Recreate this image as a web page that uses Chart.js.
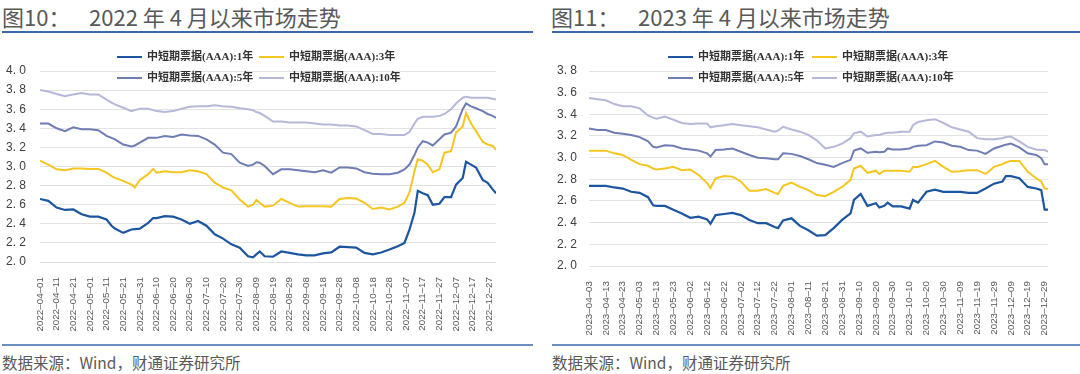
<!DOCTYPE html>
<html>
<head>
<meta charset="utf-8">
<script src="https://cdn.jsdelivr.net/npm/chart.js@4.4.1/dist/chart.umd.min.js"></script>
<style>
  body { margin: 0; background: #fff; width: 1080px; height: 374px; overflow: hidden; position: relative; font-family: "Noto Sans CJK SC", sans-serif; }
  .title { position: absolute; top: 2px; font-size: 22px; color: #595959; white-space: nowrap; line-height: 28px; }
  .title .num { position: absolute; left: 87px; }
  .rule { position: absolute; height: 2px; }
  .src { position: absolute; top: 351px; font-size: 15.5px; color: #595959; white-space: nowrap; }
  .box { position: absolute; top: 36px; height: 306px; }
</style>
</head>
<body>
<div class="title" style="left:2px">图10：<span class="num">2022 年 4 月以来市场走势</span></div>
<div class="title" style="left:551px">图11：<span class="num">2023 年 4 月以来市场走势</span></div>
<div class="rule" style="left:2px;width:531px;top:31px;background:#3a68a8"></div>
<div class="rule" style="left:552px;width:528px;top:31px;background:#3a68a8"></div>
<div class="rule" style="left:2px;width:531px;top:344px;background:#6b8fc2"></div>
<div class="rule" style="left:552px;width:528px;top:344px;background:#6b8fc2"></div>
<div class="src" style="left:2px">数据来源：Wind，财通证券研究所</div>
<div class="src" style="left:552px">数据来源：Wind，财通证券研究所</div>
<div class="box" style="left:0;width:540px"><canvas id="c2022" width="540" height="306"></canvas></div>
<div class="box" style="left:545px;width:535px"><canvas id="c2023" width="535" height="306"></canvas></div>
<script>
// series names
const seriesNames = ["中短期票据(AAA):1年", "中短期票据(AAA):3年", "中短期票据(AAA):5年", "中短期票据(AAA):10年"];
const seriesColors = ["#1d56a0", "#f6c620", "#6f7db5", "#b5b8d8"];

// 2022: day offsets from 2022-04-01
const days2022 = [0,5,10,15,20,25,30,35,40,43,45,50,55,57,60,65,68,70,75,80,85,90,95,100,105,110,115,120,125,128,130,132,
  135,140,145,150,155,160,165,170,175,180,185,190,195,200,205,210,215,219,222,225,227,230,233,236,240,243,247,250,254,256,259,262,266,269,272,274];
const y1_2022 = [2.66,2.64,2.57,2.545,2.55,2.50,2.475,2.475,2.445,2.38,2.35,2.305,2.34,2.345,2.35,2.41,2.46,2.46,2.48,2.475,2.445,2.40,2.43,2.38,2.29,2.245,2.185,2.15,2.06,2.05,2.08,2.11,
  2.06,2.055,2.11,2.095,2.08,2.07,2.07,2.09,2.10,2.16,2.155,2.15,2.095,2.08,2.10,2.13,2.165,2.20,2.34,2.515,2.745,2.72,2.70,2.60,2.61,2.68,2.68,2.81,2.88,3.05,3.02,2.99,2.86,2.83,2.76,2.72];
const y3_2022 = [3.06,3.02,2.97,2.96,2.98,2.98,2.975,2.975,2.935,2.90,2.88,2.85,2.81,2.78,2.86,2.92,2.975,2.935,2.95,2.94,2.94,2.96,2.95,2.92,2.83,2.78,2.75,2.655,2.58,2.60,2.65,2.62,
  2.58,2.59,2.66,2.62,2.58,2.585,2.585,2.585,2.58,2.66,2.67,2.665,2.62,2.555,2.57,2.55,2.58,2.62,2.725,2.95,3.075,3.06,3.02,2.94,2.97,3.145,3.16,3.355,3.42,3.56,3.45,3.37,3.26,3.23,3.215,3.175];
const y5_2022 = [3.45,3.45,3.40,3.37,3.41,3.39,3.39,3.38,3.32,3.30,3.285,3.23,3.21,3.22,3.25,3.30,3.30,3.30,3.32,3.31,3.335,3.325,3.32,3.285,3.23,3.145,3.13,3.04,3.005,3.02,3.045,3.04,
  3.005,2.92,2.97,2.97,2.96,2.95,2.94,2.96,2.935,2.99,2.99,2.98,2.94,2.925,2.92,2.92,2.935,2.97,3.02,3.12,3.20,3.265,3.25,3.22,3.285,3.335,3.355,3.42,3.60,3.66,3.63,3.61,3.58,3.55,3.53,3.51];
const y10_2022 = [3.80,3.785,3.76,3.735,3.755,3.77,3.755,3.755,3.70,3.67,3.65,3.615,3.58,3.59,3.605,3.605,3.59,3.58,3.57,3.58,3.605,3.625,3.63,3.63,3.64,3.63,3.625,3.61,3.60,3.59,3.57,3.56,
  3.53,3.47,3.47,3.46,3.46,3.46,3.45,3.44,3.44,3.43,3.43,3.42,3.38,3.34,3.34,3.33,3.33,3.33,3.36,3.45,3.50,3.52,3.52,3.52,3.53,3.55,3.60,3.66,3.72,3.73,3.72,3.72,3.72,3.72,3.71,3.70];
const ticks2022 = ["2022–04–01","2022–04–11","2022–04–21","2022–05–01","2022–05–11","2022–05–21","2022–05–31","2022–06–10","2022–06–20","2022–06–30",
  "2022–07–10","2022–07–20","2022–07–30","2022–08–09","2022–08–19","2022–08–29","2022–09–08","2022–09–18","2022–09–28","2022–10–08",
  "2022–10–18","2022–10–28","2022–11–07","2022–11–17","2022–11–27","2022–12–07","2022–12–17","2022–12–27"];

// 2023: day offsets from 2023-04-03
const days2023 = [0,5,10,15,20,25,30,35,38,40,45,50,55,60,65,70,72,75,80,85,90,95,100,105,110,112,115,120,125,130,135,140,145,150,155,157,161,
  165,170,172,175,177,180,185,190,192,195,200,205,210,215,220,225,230,235,240,245,247,250,255,260,265,268,270,272];
const y1_2023 = [2.74,2.74,2.74,2.725,2.715,2.685,2.675,2.635,2.56,2.555,2.555,2.52,2.485,2.445,2.455,2.43,2.39,2.47,2.48,2.49,2.47,2.425,2.395,2.395,2.36,2.35,2.42,2.44,2.37,2.33,2.28,2.285,2.35,2.425,2.485,2.61,2.665,
  2.555,2.58,2.54,2.555,2.585,2.55,2.55,2.53,2.61,2.585,2.685,2.705,2.685,2.685,2.685,2.675,2.675,2.715,2.76,2.78,2.83,2.83,2.81,2.73,2.715,2.70,2.52,2.52];
const y3_2023 = [3.065,3.065,3.065,3.04,3.025,2.98,2.94,2.925,2.90,2.89,2.90,2.915,2.885,2.89,2.84,2.765,2.72,2.81,2.83,2.825,2.78,2.695,2.695,2.71,2.675,2.665,2.74,2.77,2.73,2.70,2.655,2.645,2.685,2.73,2.795,2.90,2.925,
  2.86,2.88,2.85,2.88,2.88,2.88,2.88,2.87,2.915,2.915,2.94,2.97,2.915,2.87,2.875,2.885,2.885,2.85,2.915,2.94,2.955,2.97,2.97,2.87,2.81,2.78,2.715,2.71];
const y5_2023 = [3.27,3.255,3.255,3.23,3.22,3.21,3.19,3.15,3.10,3.095,3.115,3.11,3.085,3.075,3.065,3.04,3.01,3.07,3.075,3.085,3.055,3.025,3.00,2.995,2.985,2.985,3.04,3.035,3.015,2.985,2.95,2.935,2.915,2.95,2.98,3.065,3.085,
  3.045,3.055,3.05,3.055,3.085,3.075,3.075,3.085,3.10,3.11,3.115,3.15,3.14,3.11,3.10,3.07,3.065,3.035,3.085,3.11,3.12,3.13,3.095,3.04,3.025,2.995,2.94,2.94];
const y10_2023 = [3.55,3.54,3.53,3.495,3.475,3.475,3.455,3.39,3.37,3.36,3.38,3.35,3.32,3.31,3.315,3.315,3.28,3.29,3.30,3.31,3.30,3.29,3.28,3.26,3.24,3.25,3.285,3.26,3.24,3.21,3.16,3.085,3.10,3.13,3.18,3.225,3.24,
  3.195,3.21,3.21,3.225,3.23,3.23,3.24,3.24,3.30,3.33,3.345,3.355,3.32,3.28,3.26,3.24,3.18,3.17,3.17,3.18,3.19,3.195,3.15,3.10,3.075,3.07,3.07,3.055];
const ticks2023 = ["2023–04–03","2023–04–13","2023–04–23","2023–05–03","2023–05–13","2023–05–23","2023–06–02","2023–06–12","2023–06–22","2023–07–02",
  "2023–07–12","2023–07–22","2023–08–01","2023–08–11","2023–08–21","2023–08–31","2023–09–10","2023–09–20","2023–09–30","2023–10–10",
  "2023–10–20","2023–10–30","2023–11–09","2023–11–19","2023–11–29","2023–12–09","2023–12–19","2023–12–29"];

// legend drawn in a 2x2 grid over the top of the plot
const gridLegend = {
  id: 'gridLegend',
  afterDraw(chart, args, opts) {
    const ctx = chart.ctx;
    ctx.save();
    ctx.font = 'bold 11px "Liberation Serif", "Noto Sans CJK SC", serif';
    ctx.textBaseline = 'middle';
    chart.data.datasets.forEach((ds, i) => {
      const x = opts.cols[i % 2], y = opts.rows[Math.floor(i / 2)];
      ctx.strokeStyle = ds.borderColor;
      ctx.lineWidth = 2;
      ctx.beginPath();
      ctx.moveTo(x, y);
      ctx.lineTo(x + 25, y);
      ctx.stroke();
      ctx.fillStyle = '#333';
      ctx.fillText(ds.label, x + 30, y + 0.5);
    });
    ctx.restore();
  }
};

function makeChart(id, days, series, tickLabels, cfg) {
  const datasets = series.map((vals, i) => ({
    label: seriesNames[i],
    data: days.map((d, j) => ({ x: d, y: vals[j] })),
    borderColor: seriesColors[i],
    borderWidth: i === 0 ? 2.2 : 2,
    pointRadius: 0,
    tension: 0,
    fill: false
  }));
  return new Chart(document.getElementById(id), {
    type: 'line',
    data: { datasets },
    plugins: [gridLegend],
    options: {
      responsive: false,
      animation: false,
      devicePixelRatio: 1,
      layout: { padding: { top: 35, right: cfg.padRight, bottom: 0, left: 0 } },
      plugins: {
        legend: { display: false },
        tooltip: { enabled: false },
        gridLegend: { cols: cfg.legendCols, rows: [21, 42] }
      },
      scales: {
        x: {
          type: 'linear',
          min: 0,
          max: days[days.length - 1],
          grid: { display: false },
          border: { display: false },
          afterFit: s => { s.height = cfg.xHeight; },
          ticks: {
            stepSize: 10,
            autoSkip: false,
            includeBounds: false,
            minRotation: 90,
            maxRotation: 90,
            padding: 7,
            color: '#595959',
            font: { family: '"Liberation Sans", Arial, sans-serif', size: 9.8 },
            callback: v => (Number.isInteger(v / 10) && tickLabels[v / 10]) ? tickLabels[v / 10] : ''
          }
        },
        y: {
          min: 2.0,
          max: cfg.yMax,
          afterFit: s => { s.width = cfg.yWidth; },
          grid: { color: '#e3e3e3', lineWidth: 1, drawTicks: false },
          border: { display: false },
          ticks: {
            stepSize: 0.2,
            padding: cfg.yPad,
            color: '#404040',
            font: { family: '"Liberation Sans", Arial, sans-serif', size: 12 },
            callback: v => v.toFixed(1).replace('.', '. ')
          }
        }
      }
    }
  });
}

makeChart('c2022', days2022, [y1_2022, y3_2022, y5_2022, y10_2022], ticks2022,
  { padRight: 44, xHeight: 80, yWidth: 40, yPad: 14, yMax: 4.0, legendCols: [117, 259] });
makeChart('c2023', days2023, [y1_2023, y3_2023, y5_2023, y10_2023], ticks2023,
  { padRight: 32, xHeight: 76, yWidth: 44, yPad: 12, yMax: 3.8, legendCols: [123, 267] });
</script>
</body>
</html>
